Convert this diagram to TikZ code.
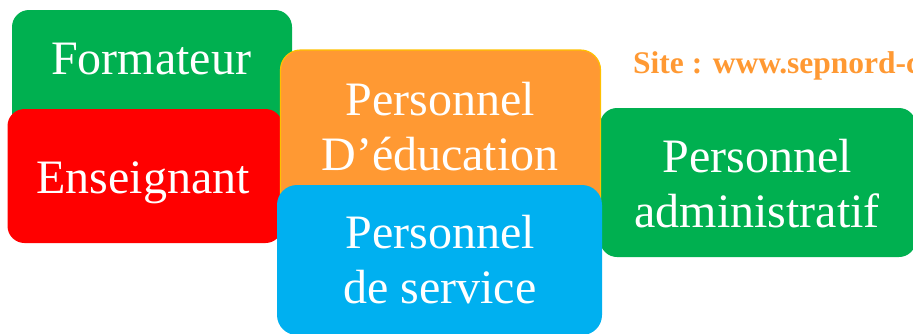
\documentclass[tikz,border=0pt]{standalone}
\usepackage{fontspec}
\setmainfont{Liberation Serif}
\definecolor{cgreen}{HTML}{00B050}
\definecolor{cred}{HTML}{FF0000}
\definecolor{corange}{HTML}{FF9933}
\definecolor{cgold}{HTML}{FFC000}
\definecolor{cblue}{HTML}{00B0F0}
\definecolor{csite}{HTML}{FF9933}
\begin{document}
\begin{tikzpicture}[x=1pt,y=-1pt,
  box/.style={rectangle,rounded corners=17pt,inner sep=0pt,draw=none},
  lbl/.style={text=white,font=\fontsize{48}{55}\selectfont,align=center,inner sep=0pt,anchor=base}]
\useasboundingbox (0,0) rectangle (913,333);
% Formateur
\node[box,fill=cgreen,minimum width=280pt,minimum height=130pt] (formbox) at (152,75) {};
\node[lbl] (formtxt) at (151,74) {Formateur};
% Enseignant
\node[box,fill=cred,minimum width=275pt,minimum height=134pt] (ensbox) at (145,176) {};
\node[lbl] (enstxt) at (143,193) {Enseignant};
% Administratif
\node[box,fill=cgreen,minimum width=316pt,minimum height=149pt] (admbox) at (758,182.5) {};
\node[lbl] (admtxt) at (757,227) {Personnel\\administratif};
% Education
\node[box,fill=corange,draw=cgold,line width=1.2pt,rounded corners=20pt,minimum width=320pt,minimum height=170pt] (edubox) at (440.5,135) {};
\node[lbl] (edutxt) at (440,170) {Personnel\\D’éducation};
% Service
\node[box,fill=cblue,rounded corners=20pt,minimum width=325pt,minimum height=150pt] (serbox) at (439.5,260) {};
\node[lbl] (sertxt) at (440,303) {Personnel\\de service};
% Site
\node[anchor=base west,inner sep=0pt,text=csite,font=\fontsize{31.5}{36}\selectfont\bfseries] (site) at (633,73) {Site : www.sepnord-cours.com};
\end{tikzpicture}
\end{document}
